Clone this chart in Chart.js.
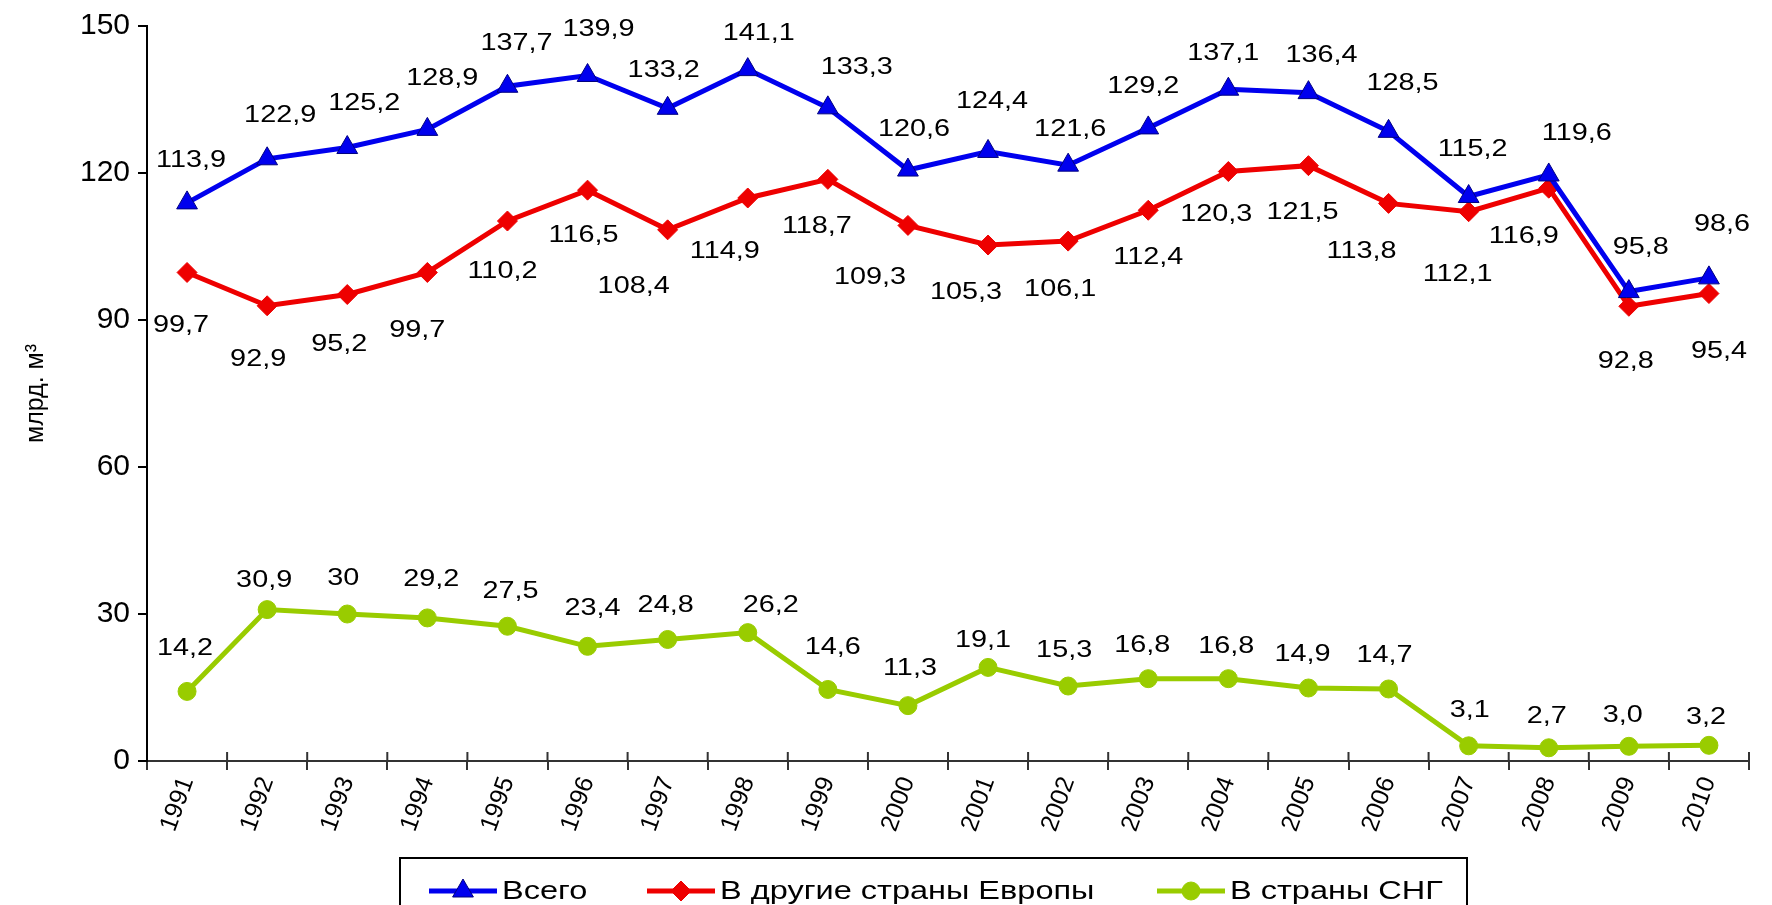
<!DOCTYPE html>
<html>
<head>
<meta charset="utf-8">
<script src="https://cdn.jsdelivr.net/npm/chart.js@4"></script>
<style>
  html, body { margin: 0; padding: 0; background: #fff; }
  #wrap { width: 1772px; height: 905px; }
</style>
</head>
<body>
<div id="wrap"><canvas id="gasChart" width="1772" height="905"></canvas></div>
<script>
const years = ['1991','1992','1993','1994','1995','1996','1997','1998','1999','2000',
               '2001','2002','2003','2004','2005','2006','2007','2008','2009','2010'];
const totalValues  = [113.9,122.9,125.2,128.9,137.7,139.9,133.2,141.1,133.3,120.6,
                      124.4,121.6,129.2,137.1,136.4,128.5,115.2,119.6,95.8,98.6];
const europeValues = [99.7,92.9,95.2,99.7,110.2,116.5,108.4,114.9,118.7,109.3,
                      105.3,106.1,112.4,120.3,121.5,113.8,112.1,116.9,92.8,95.4];
const cisValues    = [14.2,30.9,30,29.2,27.5,23.4,24.8,26.2,14.6,11.3,
                      19.1,15.3,16.8,16.8,14.9,14.7,3.1,2.7,3.0,3.2];
// the CIS labels are printed inconsistently ("30" but "3,0")
const cisText = ['14,2','30,9','30','29,2','27,5','23,4','24,8','26,2','14,6','11,3',
                 '19,1','15,3','16,8','16,8','14,9','14,7','3,1','2,7','3,0','3,2'];
const yTicks = [0, 30, 60, 90, 120, 150];
const seriesNames = ['Всего', 'В другие страны Европы', 'В страны СНГ'];

// label offsets from their points (px)
const totalDx  = [4,13,17,15,9,11,-4,11,29,6,4,2,-5,-5,13,14,4,28,12,13];
const totalDy  = [-43,-43,-44,-51,-43,-46,-38,-36,-40,-41,-50,-36,-42,-36,-37,-48,-47,-42,-44,-53];
const europeDx = [-6,-9,-8,-10,-5,-4,-34,-23,-11,-38,-22,-8,0,-12,-6,-27,-11,-25,-3,10];
const europeDy = [53,54,50,58,50,45,57,53,47,52,47,48,47,43,47,48,63,48,55,58];
const cisDx    = [-2,-3,-4,4,3,5,-2,23,5,2,-5,-4,-6,-2,-6,-4,1,-2,-6,-3];
const cisDy    = [-43,-29,-36,-39,-35,-38,-34,-27,-42,-37,-27,-36,-33,-32,-34,-34,-35,-31,-31,-28];

const FONT = '"Liberation Sans", Arial, sans-serif';
const fmt = v => v.toFixed(1).replace('.', ',');

const valueLabels = {
  id: 'valueLabels',
  afterDatasetsDraw(chart) {
    const ctx = chart.ctx;
    chart.data.datasets.forEach((ds, i) => {
      chart.getDatasetMeta(i).data.forEach((pt, j) => {
        ctx.save();
        ctx.translate(pt.x + ds.labelDx[j], pt.y + ds.labelDy[j]);
        ctx.scale(1.2, 1);
        ctx.font = '24px ' + FONT;
        ctx.fillStyle = '#000';
        ctx.textAlign = 'center';
        ctx.textBaseline = 'middle';
        ctx.fillText(ds.labelText[j], 0, 0);
        ctx.restore();
      });
    });
  }
};

// x tick marks cross the axis; chart.js only draws the outer half
const innerTicks = {
  id: 'innerTicks',
  afterDraw(chart) {
    const xs = chart.scales.x, ctx = chart.ctx;
    const n = xs.ticks.length;
    ctx.save();
    ctx.strokeStyle = '#333';
    ctx.lineWidth = 2;
    ctx.beginPath();
    for (let i = 1; i <= n; i++) {
      const px = xs.left + i * xs.width / n;
      ctx.moveTo(px, xs.top - 9);
      ctx.lineTo(px, xs.top);
    }
    ctx.stroke();
    ctx.restore();
  }
};

const boxLegend = {
  id: 'boxLegend',
  afterDraw(chart) {
    const ctx = chart.ctx;
    const itemX = [429, 647, 1157];
    const y = 891;
    ctx.save();
    ctx.strokeStyle = '#000';
    ctx.lineWidth = 2;
    ctx.strokeRect(400, 858, 1067, 80);
    ctx.restore();
    chart.data.datasets.forEach((ds, i) => {
      const x = itemX[i];
      ctx.save();
      ctx.strokeStyle = ds.borderColor;
      ctx.lineWidth = 5;
      ctx.beginPath();
      ctx.moveTo(x, y);
      ctx.lineTo(x + 68, y);
      ctx.stroke();
      ctx.fillStyle = ds.pointBackgroundColor;
      ctx.strokeStyle = ds.pointBorderColor;
      ctx.lineWidth = 1;
      Chart.helpers.drawPoint(ctx, {
        pointStyle: ds.pointStyle, radius: ds.pointRadius, borderWidth: 1
      }, x + 34, y);
      ctx.translate(x + 73, y);
      ctx.scale(1.3, 1);
      ctx.font = '25px ' + FONT;
      ctx.fillStyle = '#000';
      ctx.textAlign = 'left';
      ctx.textBaseline = 'middle';
      ctx.fillText(ds.label, 0, 1);
      ctx.restore();
    });
  }
};

new Chart(document.getElementById('gasChart'), {
  type: 'line',
  data: {
    labels: years,
    datasets: [
      { label: seriesNames[0], data: totalValues, borderColor: '#0000ee', borderWidth: 5,
        pointStyle: 'triangle', pointRadius: 12, pointBackgroundColor: '#0000ee',
        pointBorderColor: '#000080', pointBorderWidth: 1,
        labelText: totalValues.map(fmt), labelDx: totalDx, labelDy: totalDy },
      { label: seriesNames[1], data: europeValues, borderColor: '#ee0000', borderWidth: 5,
        pointStyle: 'rectRot', pointRadius: 10, pointBackgroundColor: '#ee0000',
        pointBorderColor: '#ee0000', pointBorderWidth: 1,
        labelText: europeValues.map(fmt), labelDx: europeDx, labelDy: europeDy },
      { label: seriesNames[2], data: cisValues, borderColor: '#99cc00', borderWidth: 5,
        pointStyle: 'circle', pointRadius: 9, pointBackgroundColor: '#99cc00',
        pointBorderColor: '#99cc00', pointBorderWidth: 1,
        labelText: cisText, labelDx: cisDx, labelDy: cisDy }
    ]
  },
  options: {
    responsive: false,
    animation: false,
    layout: { padding: { top: 20, right: 23, left: 0, bottom: 0 } },
    plugins: { legend: { display: false }, tooltip: { enabled: false } },
    scales: {
      x: {
        offset: true,
        grid: { offset: true, drawOnChartArea: false, tickLength: 9, color: '#333', lineWidth: 2 },
        border: { color: '#333', width: 2 },
        ticks: { minRotation: 70, maxRotation: 70, padding: 3, color: '#000', font: { size: 25, family: FONT } },
        afterFit: s => { s.height = 144; }
      },
      y: {
        min: 0, max: 150,
        afterBuildTicks: s => { s.ticks = yTicks.map(v => ({ value: v })); },
        ticks: { padding: 8, color: '#000', font: { size: 30, family: FONT } },
        grid: { drawOnChartArea: false, tickLength: 9, color: '#000', lineWidth: 2 },
        border: { color: '#000', width: 2 },
        title: { display: true, text: 'млрд. м³', color: '#000', font: { size: 25, family: FONT }, padding: { top: 21, bottom: 0 } },
        afterFit: s => { s.width = 147; }
      }
    }
  },
  plugins: [valueLabels, innerTicks, boxLegend]
});
</script>
</body>
</html>
